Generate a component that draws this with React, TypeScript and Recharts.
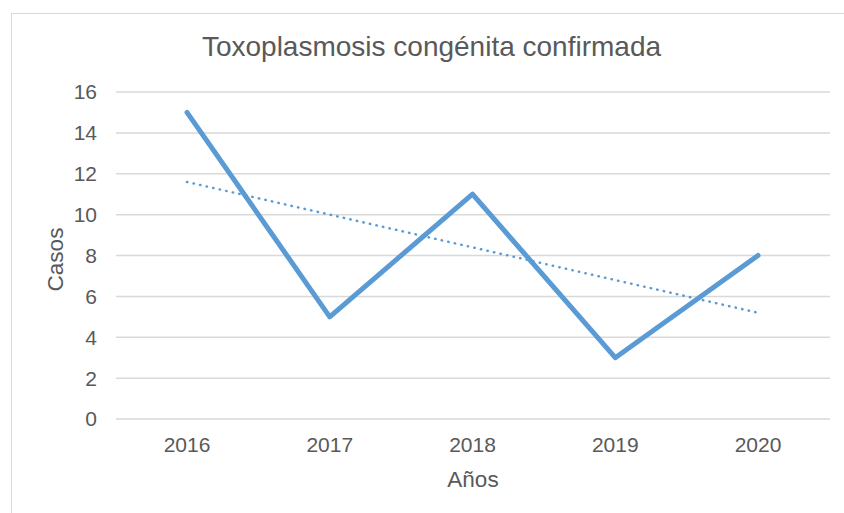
import React from 'react';
import { LineChart, Line, XAxis, YAxis, CartesianGrid, Label } from 'recharts';

const years = ['2016', '2017', '2018', '2019', '2020'];
const casos = [15, 5, 11, 3, 8];
const tendencia = [11.6, 10.0, 8.4, 6.8, 5.2];
const yTicks = [0, 2, 4, 6, 8, 10, 12, 14, 16];

const data = years.map((y, i) => ({ year: y, casos: casos[i], trend: tendencia[i] }));

const FONT = '"Liberation Sans", Arial, sans-serif';
const TXT = '#595959';
const GRID = '#d9d9d9';
const BLUE = '#5B9BD5';

export default function App() {
  return (
    <div style={{ position: 'absolute', left: 0, top: 0, width: 844, height: 513, overflow: 'hidden', background: '#fff', fontFamily: FONT }}>
      <div style={{ position: 'absolute', left: 11, top: 13, width: 900, height: 600, border: `1.5px solid ${GRID}`, boxSizing: 'border-box' }} />
      <div style={{ position: 'absolute', left: 0, top: 33, width: 863, textAlign: 'center', fontSize: 28, lineHeight: '28px', color: TXT, fontFamily: FONT, whiteSpace: 'nowrap' }}>
        Toxoplasmosis congénita confirmada
      </div>
      <div style={{ position: 'absolute', left: 0, top: 0 }}>
        <LineChart width={844} height={513} data={data} margin={{ top: 92, right: 14, bottom: 64, left: 56 }}>
          <CartesianGrid vertical={false} stroke={GRID} strokeWidth={1.5} />
          <XAxis
            dataKey="year"
            axisLine={false}
            tickLine={false}
            tickSize={0}
            tickMargin={18}
            height={30}
            padding={{ left: 71, right: 72 }}
            tick={{ fill: TXT, fontSize: 21, fontFamily: FONT }}
          >
            <Label
              content={({ viewBox }: any) => (
                <text x={viewBox.x + viewBox.width / 2} y={487} textAnchor="middle" fill={TXT} fontSize={22.5} fontFamily={FONT}>
                  Años
                </text>
              )}
            />
          </XAxis>
          <YAxis
            domain={[0, 16]}
            ticks={yTicks}
            axisLine={false}
            tickLine={false}
            tickSize={0}
            tickMargin={19}
            width={60}
            tick={{ fill: TXT, fontSize: 21, fontFamily: FONT }}
          >
            <Label
              content={({ viewBox }: any) => {
                const cx = 63;
                const cy = viewBox.y + viewBox.height / 2 + 4;
                return (
                  <text x={cx} y={cy} transform={`rotate(-90, ${cx}, ${cy})`} textAnchor="middle" fill={TXT} fontSize={22.5} fontFamily={FONT}>
                    Casos
                  </text>
                );
              }}
            />
          </YAxis>
          <Line
            type="linear"
            dataKey="trend"
            stroke={BLUE}
            strokeWidth={2.5}
            strokeDasharray="0.4 6.3"
            strokeLinecap="round"
            dot={false}
            activeDot={false}
            isAnimationActive={false}
          />
          <Line
            type="linear"
            dataKey="casos"
            stroke={BLUE}
            strokeWidth={5}
            strokeLinecap="round"
            strokeLinejoin="round"
            dot={false}
            activeDot={false}
            isAnimationActive={false}
          />
        </LineChart>
      </div>
    </div>
  );
}
